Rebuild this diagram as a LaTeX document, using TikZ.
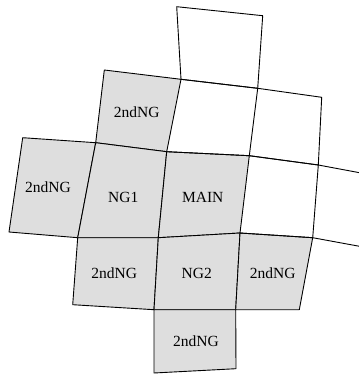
\documentclass[tikz,border=0pt]{standalone}
\usepackage{fontspec}
\setmainfont{Liberation Serif}
\begin{document}
\begin{tikzpicture}[x=1pt,y=-1pt,
  cell/.style={draw=black,line width=0.9pt,line join=round},
  shaded/.style={cell,fill=black!13},
  lbl/.style={font=\fontsize{15.5}{18}\selectfont,inner sep=0pt}]
\useasboundingbox (0,0) rectangle (358,374);
% grid corner points
\coordinate (t1) at (176.7,6.7);
\coordinate (t2) at (262.7,15.7);
\coordinate (a1) at (104.3,70);
\coordinate (a2) at (181,79.3);
\coordinate (a3) at (257.7,88.3);
\coordinate (a4) at (321.7,97.3);
\coordinate (b0) at (22.7,137.7);
\coordinate (b1) at (95.7,142.7);
\coordinate (b2) at (166.7,151.7);
\coordinate (b3) at (249.3,155.7);
\coordinate (b4) at (318.3,165);
\coordinate (b5) at (359.5,172.7);
\coordinate (c0) at (9,232);
\coordinate (c1) at (77.7,237.7);
\coordinate (c2) at (158.3,237.7);
\coordinate (c3) at (240,233);
\coordinate (c4) at (312.7,237.7);
\coordinate (c5) at (359.5,246.3);
\coordinate (d1) at (72.7,304.7);
\coordinate (d2) at (154,309.7);
\coordinate (d3) at (235.7,309.7);
\coordinate (d4) at (299.3,309.7);
\coordinate (e2) at (154,373);
\coordinate (e3) at (236,368.7);
% shaded neighbour cells
\draw[shaded] (a1) -- (a2) -- (b2) -- (b1) -- cycle;
\draw[shaded] (b0) -- (b1) -- (c1) -- (c0) -- cycle;
\draw[shaded] (b1) -- (b2) -- (c2) -- (c1) -- cycle;
\draw[shaded] (b2) -- (b3) -- (c3) -- (c2) -- cycle;
\draw[shaded] (c1) -- (c2) -- (d2) -- (d1) -- cycle;
\draw[shaded] (c2) -- (c3) -- (d3) -- (d2) -- cycle;
\draw[shaded] (c3) -- (c4) -- (d4) -- (d3) -- cycle;
\draw[shaded] (d2) -- (d3) -- (e3) -- (e2) -- cycle;
% open cells
\draw[cell] (t1) -- (t2) -- (a3) -- (a2) -- cycle;
\draw[cell] (a2) -- (a3) -- (b3) -- (b2);
\draw[cell] (a3) -- (a4) -- (b4) -- (b3);
\draw[cell] (b3) -- (b4) -- (c4) -- (c3);
\draw[cell] (b4) -- (b5);
\draw[cell] (c4) -- (c5);
% labels
\node[lbl] (n1) at (136.7,111.7) {2ndNG};
\node[lbl] (n2) at (48,187) {2ndNG};
\node[lbl] (ng1) at (123.3,197) {NG1};
\node[lbl] (main) at (202.7,197) {MAIN};
\node[lbl] (n3) at (114.3,273) {2ndNG};
\node[lbl] (ng2) at (196.7,273) {NG2};
\node[lbl] (n4) at (272.7,273) {2ndNG};
\node[lbl] (n5) at (196,341) {2ndNG};
\end{tikzpicture}
\end{document}
